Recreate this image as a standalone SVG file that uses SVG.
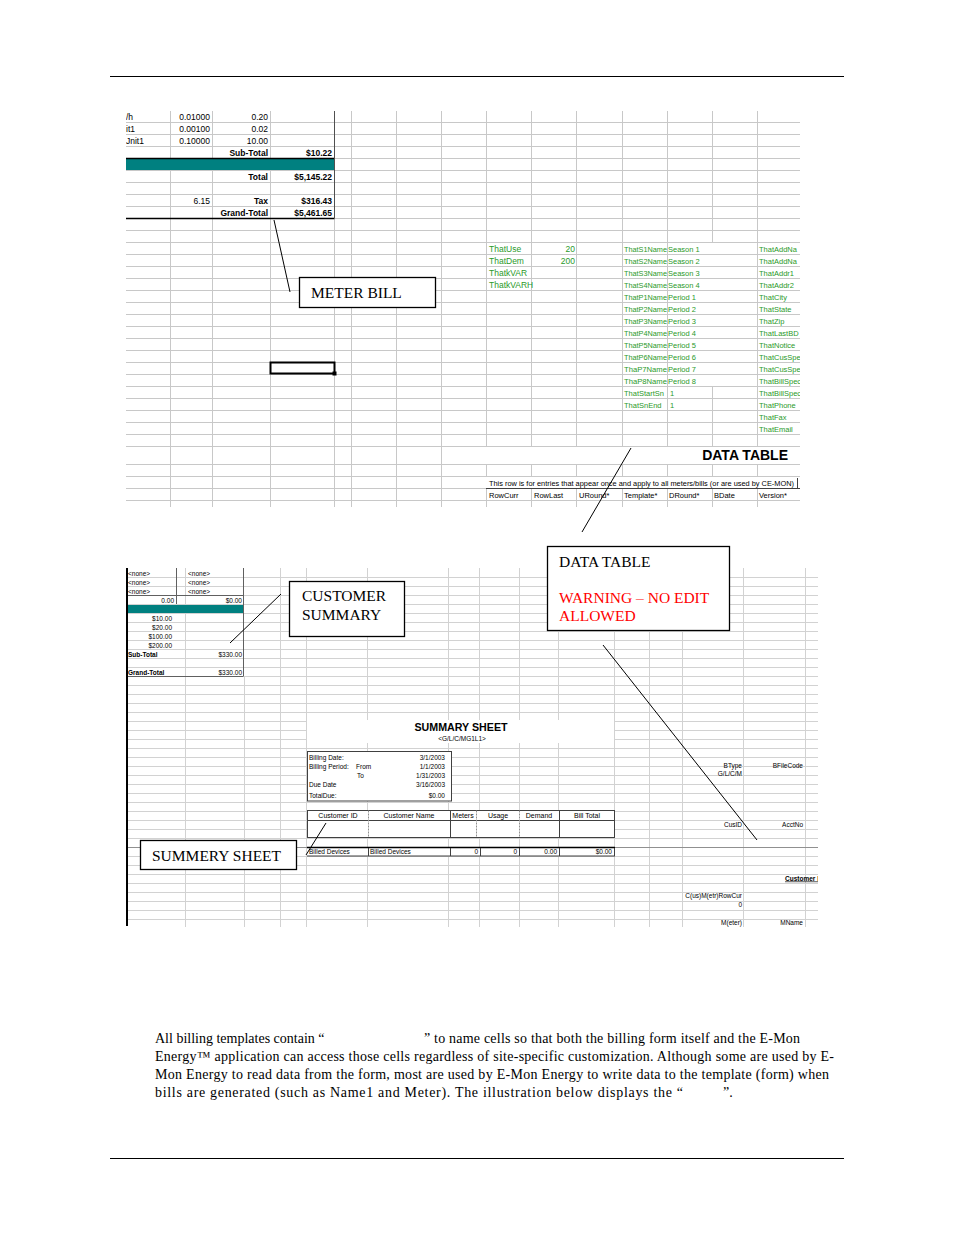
<svg xmlns="http://www.w3.org/2000/svg" width="954" height="1235" viewBox="0 0 954 1235">
<style>
.g{stroke:#c8c8c8;stroke-width:1;fill:none}
.gl{stroke:#d2d2d2;stroke-width:1;fill:none}
.dk{stroke:#000;fill:none}
.s{font-family:"Liberation Sans",Arial,sans-serif;font-size:8.5px;fill:#000}
.sb{font-family:"Liberation Sans",Arial,sans-serif;font-size:8.5px;font-weight:bold;fill:#000}
.gr{font-family:"Liberation Sans",Arial,sans-serif;font-size:8.5px;fill:#2a9a2a}
.grs{font-family:"Liberation Sans",Arial,sans-serif;font-size:7.5px;fill:#2a9a2a}
.t{font-family:"Liberation Sans",Arial,sans-serif;font-size:6.5px;fill:#000}
.tb{font-family:"Liberation Sans",Arial,sans-serif;font-size:6.5px;font-weight:bold;fill:#000}
.r{text-anchor:end}
.box{fill:#fff;stroke:#000;stroke-width:1.3}
.lbl{font-family:"Liberation Serif","Times New Roman",serif;font-size:15.5px;fill:#000}
.para{font-family:"Liberation Serif","Times New Roman",serif;font-size:14px;fill:#000}
.con{stroke:#000;stroke-width:1;fill:none}
</style>
<defs>
<clipPath id="topclip"><rect x="126" y="110" width="674" height="397"/></clipPath>
<clipPath id="lowclip"><rect x="126" y="566" width="692" height="361"/></clipPath>
</defs>

<!-- page rules -->
<path d="M110 76.5H844M110 1158.5H844" stroke="#000" stroke-width="1"/>

<!-- TOP SPREADSHEET -->
<g id="top-sheet" clip-path="url(#topclip)">
<path class="g" d="M126 122.5H800M126 134.5H800M126 146.5H800M334 158.5H800M126 170.5H800M126 182.5H800M126 194.5H800M126 206.5H800M334 218.5H800M126 230.5H800M126 242.5H800M126 254.5H800M126 266.5H800M126 278.5H800M126 290.5H800M126 302.5H800M126 314.5H800M126 326.5H800M126 338.5H800M126 350.5H800M126 362.5H800M126 374.5H800M126 386.5H800M126 398.5H800M126 410.5H800M126 422.5H800M126 434.5H800M126 446.5H800M126 464.5H800M126 476.5H800M126 488.5H486M126 500.5H800"/>
<path class="g" d="M170.5 111V507M212.5 111V507M270.5 111V507M334.5 218V507M351.5 111V507M396.5 111V507M441.5 111V507M486.5 111V446M486.5 464V476M486.5 488V507M531.5 111V446M531.5 464V476M531.5 488V507M576.5 111V446M576.5 464V476M576.5 488V507M622.5 111V446M622.5 464V476M622.5 488V507M667.5 111V446M667.5 464V476M667.5 488V507M712.5 111V242M712.5 386V446M712.5 464V476M712.5 488V507M757.5 111V446M757.5 464V476M757.5 488V507"/>
<rect x="126" y="159" width="208" height="11" fill="#008080"/>
<path class="dk" stroke-width="1.5" d="M126 158.5H334.5M126 218.5H334.5"/>
<path stroke="#505050" stroke-width="1" d="M334.5 111V218"/>
<path stroke="#404040" stroke-width="1" d="M486 488.5H800M797.5 478V488"/>

<text class="s" x="126" y="119.5">/h</text>
<text class="s r" x="210" y="119.5">0.01000</text>
<text class="s r" x="268" y="119.5">0.20</text>
<text class="s" x="126" y="131.5">it1</text>
<text class="s r" x="210" y="131.5">0.00100</text>
<text class="s r" x="268" y="131.5">0.02</text>
<text class="s" x="126" y="143.5">Jnit1</text>
<text class="s r" x="210" y="143.5">0.10000</text>
<text class="s r" x="268" y="143.5">10.00</text>
<text class="sb r" x="268" y="155.5">Sub-Total</text>
<text class="sb r" x="332" y="155.5">$10.22</text>
<text class="sb r" x="268" y="179.5">Total</text>
<text class="sb r" x="332" y="179.5">$5,145.22</text>
<text class="s r" x="210" y="203.5">6.15</text>
<text class="sb r" x="268" y="203.5">Tax</text>
<text class="sb r" x="332" y="203.5">$316.43</text>
<text class="sb r" x="268" y="215.5">Grand-Total</text>
<text class="sb r" x="332" y="215.5">$5,461.65</text>

<rect x="270.5" y="362.5" width="64" height="11" fill="none" stroke="#000" stroke-width="2"/>
<rect x="332.5" y="371.5" width="4" height="4" fill="#000"/>

<text class="gr" x="489" y="251.5">ThatUse</text>
<text class="gr r" x="575" y="251.5">20</text>
<text class="gr" x="489" y="263.5">ThatDem</text>
<text class="gr r" x="575" y="263.5">200</text>
<text class="gr" x="489" y="275.5">ThatkVAR</text>
<text class="gr" x="489" y="287.5">ThatkVARH</text>

<g class="grs">
<text x="624" y="251.5" textLength="43" lengthAdjust="spacingAndGlyphs">ThatS1Name</text><text x="668" y="251.5">Season 1</text>
<text x="624" y="263.5" textLength="43" lengthAdjust="spacingAndGlyphs">ThatS2Name</text><text x="668" y="263.5">Season 2</text>
<text x="624" y="275.5" textLength="43" lengthAdjust="spacingAndGlyphs">ThatS3Name</text><text x="668" y="275.5">Season 3</text>
<text x="624" y="287.5" textLength="43" lengthAdjust="spacingAndGlyphs">ThatS4Name</text><text x="668" y="287.5">Season 4</text>
<text x="624" y="299.5" textLength="43" lengthAdjust="spacingAndGlyphs">ThatP1Name</text><text x="668" y="299.5">Period 1</text>
<text x="624" y="311.5" textLength="43" lengthAdjust="spacingAndGlyphs">ThatP2Name</text><text x="668" y="311.5">Period 2</text>
<text x="624" y="323.5" textLength="43" lengthAdjust="spacingAndGlyphs">ThatP3Name</text><text x="668" y="323.5">Period 3</text>
<text x="624" y="335.5" textLength="43" lengthAdjust="spacingAndGlyphs">ThatP4Name</text><text x="668" y="335.5">Period 4</text>
<text x="624" y="347.5" textLength="43" lengthAdjust="spacingAndGlyphs">ThatP5Name</text><text x="668" y="347.5">Period 5</text>
<text x="624" y="359.5" textLength="43" lengthAdjust="spacingAndGlyphs">ThatP6Name</text><text x="668" y="359.5">Period 6</text>
<text x="624" y="371.5" textLength="43" lengthAdjust="spacingAndGlyphs">ThaP7Name</text><text x="668" y="371.5">Period 7</text>
<text x="624" y="383.5" textLength="43" lengthAdjust="spacingAndGlyphs">ThaP8Name</text><text x="668" y="383.5">Period 8</text>
<text x="624" y="395.5">ThatStartSn</text><text x="670" y="395.5">1</text>
<text x="624" y="407.5">ThatSnEnd</text><text x="670" y="407.5">1</text>
<text x="759" y="251.5">ThatAddNa</text>
<text x="759" y="263.5">ThatAddNa</text>
<text x="759" y="275.5">ThatAddr1</text>
<text x="759" y="287.5">ThatAddr2</text>
<text x="759" y="299.5">ThatCity</text>
<text x="759" y="311.5">ThatState</text>
<text x="759" y="323.5">ThatZip</text>
<text x="759" y="335.5">ThatLastBD</text>
<text x="759" y="347.5">ThatNotice</text>
<text x="759" y="359.5">ThatCusSpe</text>
<text x="759" y="371.5">ThatCusSpe</text>
<text x="759" y="383.5">ThatBillSpec</text>
<text x="759" y="395.5">ThatBillSpec</text>
<text x="759" y="407.5">ThatPhone</text>
<text x="759" y="419.5">ThatFax</text>
<text x="759" y="431.5">ThatEmail</text>
</g>

<text x="788" y="460" text-anchor="end" font-family="'Liberation Sans',Arial,sans-serif" font-size="14" font-weight="bold" fill="#000">DATA TABLE</text>
<text x="489" y="486" font-family="'Liberation Sans',Arial,sans-serif" font-size="7.5" fill="#000" textLength="305" lengthAdjust="spacingAndGlyphs">This row is for entries that appear once and apply to all meters/bills (or are used by CE-MON)</text>
<g font-family="'Liberation Sans',Arial,sans-serif" font-size="7.5" fill="#000">
<text x="489" y="498">RowCurr</text>
<text x="534" y="498">RowLast</text>
<text x="579" y="498">URound*</text>
<text x="624" y="498">Template*</text>
<text x="669" y="498">DRound*</text>
<text x="714" y="498">BDate</text>
<text x="759" y="498">Version*</text>
</g>
</g>

<!-- LOWER SPREADSHEET -->
<g id="lower-sheet" clip-path="url(#lowclip)">
<path class="gl" d="M127 577.5H818M127 586.5H818M243 595.5H818M127 604.5H818M127 613.5H818M127 622.5H818M127 631.5H818M127 640.5H818M127 649.5H818M127 658.5H818M127 667.5H818M243 676.5H818M127 685.5H818M127 694.5H818M127 703.5H818M127 712.5H818M127 721.5H818M127 730.5H818M127 739.5H818M127 748.5H818M127 757.5H818M127 766.5H818M127 775.5H818M127 784.5H818M127 793.5H818M127 802.5H818M127 811.5H818M127 820.5H818M127 829.5H818M127 838.5H818M127 856.5H818M127 865.5H818M127 874.5H818M127 883.5H818M127 892.5H818M127 901.5H818M127 910.5H818M127 919.5H818"/>
<path class="gl" d="M185.5 568V927M244.5 676V927M280.5 568V927M306.5 568V927M367.5 568V927M448.5 568V927M479.5 568V927M519.5 568V927M558.5 568V927M614.5 568V927M649.5 568V927M682.5 568V927M743.5 568V927M805.5 568V927"/>
<path stroke="#909090" stroke-width="1" d="M127 847.5H818"/>
<rect x="127" y="605" width="116" height="8" fill="#008080"/>
<path stroke="#606060" stroke-width="1" d="M127 595.5H243.5M127 676.5H243.5M176.5 568V604M243.5 568V676"/>
<path stroke="#000" stroke-width="2" d="M127 568V926"/>

<g class="t">
<text x="128" y="575.5">&lt;none&gt;</text><text x="188" y="575.5">&lt;none&gt;</text>
<text x="128" y="584.5">&lt;none&gt;</text><text x="188" y="584.5">&lt;none&gt;</text>
<text x="128" y="593.5">&lt;none&gt;</text><text x="188" y="593.5">&lt;none&gt;</text>
<text class="r" x="174" y="602.5">0.00</text><text class="r" x="242" y="602.5">$0.00</text>
<text class="r" x="172" y="620.5">$10.00</text>
<text class="r" x="172" y="629.5">$20.00</text>
<text class="r" x="172" y="638.5">$100.00</text>
<text class="r" x="172" y="647.5">$200.00</text>
<text class="r" x="242" y="656.5">$330.00</text>
<text class="r" x="242" y="674.5">$330.00</text>
</g>
<text class="tb" x="128" y="656.5">Sub-Total</text>
<text class="tb" x="128" y="674.5">Grand-Total</text>

<rect x="307" y="720" width="307" height="23" fill="#fff"/>
<text x="461" y="731" text-anchor="middle" font-family="'Liberation Sans',Arial,sans-serif" font-size="10.5" font-weight="bold" fill="#000" textLength="93" lengthAdjust="spacingAndGlyphs">SUMMARY SHEET</text>
<text x="462" y="740.5" text-anchor="middle" class="t">&lt;G/L/C/MG1L1&gt;</text>

<rect x="307.5" y="751.5" width="144" height="49.5" fill="#fff" stroke="#404040" stroke-width="1"/>
<g class="t">
<text x="309" y="759.5">Billing Date:</text><text class="r" x="445" y="759.5">3/1/2003</text>
<text x="309" y="768.5">Billing Period:</text><text x="356" y="768.5">From</text><text class="r" x="445" y="768.5">1/1/2003</text>
<text x="357" y="777.5">To</text><text class="r" x="445" y="777.5">1/31/2003</text>
<text x="309" y="786.5">Due Date</text><text class="r" x="445" y="786.5">3/16/2003</text>
<text x="309" y="797.5">TotalDue:</text><text class="r" x="445" y="797.5">$0.00</text>
</g>

<rect x="307.5" y="810.5" width="307" height="27" fill="#fff" stroke="#404040" stroke-width="1"/>
<path stroke="#404040" stroke-width="1" d="M307.5 820.5H614.5M450.5 810.5V837.5M559.5 810.5V837.5"/>
<path stroke="#909090" stroke-width="1" stroke-dasharray="2 1" d="M368.5 810.5V837.5M476.5 810.5V837.5M519.5 810.5V837.5"/>
<g font-family="'Liberation Sans',Arial,sans-serif" font-size="7" fill="#000" text-anchor="middle">
<text x="338" y="818">Customer ID</text>
<text x="409" y="818">Customer Name</text>
<text x="463" y="818">Meters</text>
<text x="498" y="818">Usage</text>
<text x="539" y="818">Demand</text>
<text x="587" y="818">Bill Total</text>
</g>
<rect x="307.5" y="848" width="307" height="8" fill="#fff"/>
<path stroke="#000" stroke-width="1.5" d="M307 847.5H615"/>
<path stroke="#404040" stroke-width="1" d="M307 856H615M368.5 848V856M450.5 848V856M480.5 848V856M519.5 848V856M559.5 848V856M614.5 848V856"/>
<g class="t">
<text x="309" y="854">Billed Devices</text>
<text x="370" y="854">Billed Devices</text>
<text class="r" x="478" y="854">0</text>
<text class="r" x="517" y="854">0</text>
<text class="r" x="557" y="854">0.00</text>
<text class="r" x="612" y="854">$0.00</text>
<text class="r" x="742" y="767.5">BType</text>
<text class="r" x="803" y="767.5">BFileCode</text>
<text class="r" x="742" y="775.5">G/L/C/M</text>
<text class="r" x="742" y="826.5">CusID</text>
<text class="r" x="803" y="826.5">AcctNo</text>
<text class="r" x="742" y="897.5">C(us)M(etr)RowCur</text>
<text class="r" x="742" y="906.5">0</text>
<text class="r" x="742" y="924.5">M(eter)</text>
<text class="r" x="803" y="924.5">MName</text>
</g>
<text class="tb" x="785" y="880.5" text-decoration="underline">Customer I</text>
</g>

<!-- CONNECTORS -->
<g id="connectors">
<line class="con" x1="274" y1="220" x2="290" y2="292"/>
<line class="con" x1="631" y1="448" x2="582" y2="532"/>
<line class="con" x1="281" y1="594" x2="230" y2="643"/>
<line class="con" x1="326" y1="823" x2="306" y2="855"/>
<line class="con" x1="603" y1="645" x2="757" y2="840"/>
</g>

<!-- CALLOUT NODES -->
<g id="node-meter-bill">
<rect class="box" x="299.5" y="277.5" width="136" height="30"/>
<text class="lbl" x="311" y="298">METER BILL</text>
</g>
<g id="node-customer-summary">
<rect class="box" x="289.5" y="581.5" width="115" height="55"/>
<text class="lbl" x="302" y="601">CUSTOMER</text>
<text class="lbl" x="302" y="620">SUMMARY</text>
</g>
<g id="node-summery-sheet">
<rect class="box" x="140.5" y="840.5" width="156" height="29"/>
<text class="lbl" x="152" y="861">SUMMERY SHEET</text>
</g>
<g id="node-data-table">
<rect class="box" x="547.5" y="546.5" width="182" height="84"/>
<text class="lbl" x="559" y="567" font-size="15">DATA TABLE</text>
<text class="lbl" x="559" y="603" font-size="15" fill="#ff0000" style="fill:#ff0000">WARNING – NO EDIT</text>
<text class="lbl" x="559" y="621" font-size="15" style="fill:#ff0000">ALLOWED</text>
</g>

<!-- PARAGRAPH -->
<g id="paragraph" class="para">
<text x="155" y="1043">All billing templates contain “</text>
<text x="424" y="1043" textLength="376" lengthAdjust="spacing">” to name cells so that both the billing form itself and the E-Mon</text>
<text x="155" y="1061" textLength="679" lengthAdjust="spacing">Energy™ application can access those cells regardless of site-specific customization. Although some are used by E-</text>
<text x="155" y="1079" textLength="674" lengthAdjust="spacing">Mon Energy to read data from the form, most are used by E-Mon Energy to write data to the template (form) when</text>
<text x="155" y="1097" textLength="528" lengthAdjust="spacing">bills are generated (such as Name1 and Meter). The illustration below displays the “</text>
<text x="723" y="1097">”.</text>
</g>
</svg>
